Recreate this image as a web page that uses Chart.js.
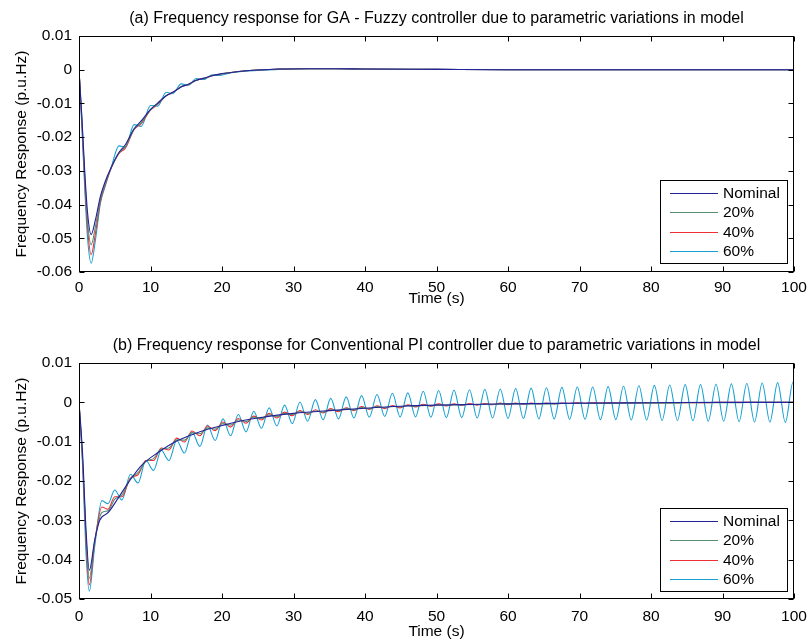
<!DOCTYPE html>
<html>
<head>
<meta charset="utf-8">
<title>Frequency response under parametric variations</title>
<script src="https://cdn.jsdelivr.net/npm/chart.js@4.4.1/dist/chart.umd.min.js"></script>
<style>
  html, body { margin: 0; padding: 0; background: #fff; }
  #page { position: relative; width: 809px; height: 643px; }
  #page canvas { position: absolute; left: 0; }
</style>
</head>
<body>
<div id="page">
  <canvas id="panelA" width="809" height="321" style="top:0"></canvas>
  <canvas id="panelB" width="809" height="322" style="top:321px"></canvas>
</div>
<script>
// ---- axes ----
const timeTicks = [0, 10, 20, 30, 40, 50, 60, 70, 80, 90, 100];
const yTicksA = [0.01, 0, -0.01, -0.02, -0.03, -0.04, -0.05, -0.06];
const yTicksB = [0.01, 0, -0.01, -0.02, -0.03, -0.04, -0.05];
const seriesNames = ['Nominal', '20%', '40%', '60%'];

// ---- (a) GA - Fuzzy controller ----
const tA = [0, 0.4, 0.8, 1.2, 1.7, 2.3, 3.0, 3.6, 4.5, 5.6,
  6.5, 7.7, 8.7, 10.0, 11.0, 12.2, 13.1, 14.3, 15.3, 16.4,
  17.5, 18.6, 19.6, 21, 23, 25, 28, 32, 36, 40,
  50, 60, 70, 80, 100];
const nominalA = [0, -0.014, -0.030, -0.0425, -0.0489, -0.0445, -0.0375, -0.0335, -0.0290, -0.0245,
  -0.0222, -0.0175, -0.0152, -0.0118, -0.0099, -0.0077, -0.0067, -0.0051, -0.0043, -0.0031,
  -0.0025, -0.0018, -0.0013, -0.0009, -0.0004, -0.0001, 0.0002, 0.0003, 0.0003, 0.0002,
  0.0001, 0, 0, 0, 0];
const var20A = [0, -0.0148, -0.0315, -0.045, -0.0519, -0.0465, -0.0383, -0.0340, -0.0291, -0.0247,
  -0.0228, -0.0177, -0.0157, -0.0119, -0.0101, -0.0077, -0.0068, -0.0050, -0.0044, -0.0031,
  -0.0026, -0.0018, -0.0014, -0.0009, -0.0004, -0.0001, 0.0002, 0.0003, 0.0003, 0.0002,
  0.0001, 0, 0, 0, 0];
const var40A = [0, -0.0155, -0.033, -0.047, -0.0549, -0.0485, -0.0390, -0.0345, -0.0292, -0.0248,
  -0.0232, -0.0178, -0.0160, -0.0120, -0.0103, -0.0077, -0.0068, -0.0050, -0.0044, -0.0031,
  -0.0026, -0.0018, -0.0014, -0.0009, -0.0004, -0.0001, 0.0002, 0.0003, 0.0003, 0.0002,
  0.0001, 0, 0, 0, 0];
const var60A = [0, -0.017, -0.035, -0.050, -0.0574, -0.0505, -0.0395, -0.0350, -0.0290, -0.0226,
  -0.0230, -0.0163, -0.0168, -0.0106, -0.0108, -0.0067, -0.0071, -0.0042, -0.0046, -0.0026,
  -0.0029, -0.0015, -0.0017, -0.0010, -0.0005, -0.0002, 0.0001, 0.0003, 0.0003, 0.0002,
  0.0001, 0, 0, 0, 0];

// ---- (b) Conventional PI controller ----
const tNomB = [0, 0.5, 1.0, 1.44, 2.2, 2.9, 4.1, 5.5, 6.9, 8.75,
  11.1, 13.4, 15.7, 18.1, 20, 22, 25, 28, 30, 35,
  40, 45, 50, 60, 70, 80, 90, 100];
const nominalB = [0, -0.013, -0.033, -0.0427, -0.035, -0.0300, -0.0280, -0.0243, -0.0204, -0.0160,
  -0.0127, -0.0101, -0.0083, -0.0068, -0.0059, -0.0050, -0.0040, -0.0032, -0.0028, -0.0021,
  -0.0015, -0.0010, -0.0007, -0.0004, -0.0002, -0.0001, 0, 0];

// swing peaks / troughs of the detuned models
const tB = [0, 0.5, 1.0, 1.44, 2.2, 3.2, 4.05, 5.0, 6.0, 7.2,
  8.25, 9.35, 10.43, 11.5, 12.58, 13.66, 14.74, 15.82, 16.9, 17.97,
  19.05, 20.13, 21.2, 22.28, 23.36, 24.44, 25.52, 26.59, 27.67, 28.75,
  29.83, 30.9, 31.98, 33.06, 34.14, 35.21, 36.29, 37.37, 38.45, 39.52,
  40.6, 41.68, 42.76, 43.83, 44.91, 45.99, 47.07, 48.14, 49.22, 50.3,
  51.38, 52.45, 53.53, 54.61, 55.69, 56.76, 57.84, 58.92, 60.0, 61.07,
  62.15, 63.23, 64.31, 65.38, 66.46, 67.54, 68.62, 69.69, 70.77, 71.85,
  72.93, 74.0, 75.08, 76.16, 77.24, 78.31, 79.39, 80.47, 81.55, 82.62,
  83.7, 84.78, 85.86, 86.93, 88.01, 89.09, 90.17, 91.24, 92.32, 93.4,
  94.48, 95.55, 96.63, 97.71, 98.79, 99.86, 100];
const var20B = [0, -0.0145, -0.0345, -0.0447, -0.0352, -0.0280, -0.0276, -0.0246, -0.0236, -0.0194,
  -0.0179, -0.0150, -0.0143, -0.0119, -0.0116, -0.0095, -0.0096, -0.0077, -0.0080, -0.0065,
  -0.0068, -0.0054, -0.0058, -0.0045, -0.0049, -0.0038, -0.0041, -0.0032, -0.0036, -0.0028,
  -0.0031, -0.0024, -0.0028, -0.0022, -0.0025, -0.0019, -0.0021, -0.0016, -0.0019, -0.0013,
  -0.0016, -0.0011, -0.0014, -0.0010, -0.0012, -0.0008, -0.0010, -0.0007, -0.0009, -0.0006,
  -0.0008, -0.0006, -0.0007, -0.0005, -0.0006, -0.0005, -0.0005, -0.0004, -0.0004, -0.0004,
  -0.0004, -0.0004, -0.0004, -0.0004, -0.0004, -0.0003, -0.0003, -0.0003, -0.0003, -0.0003,
  -0.0003, -0.0003, -0.0003, -0.0002, -0.0002, -0.0002, -0.0002, -0.0002, -0.0002, -0.0002,
  -0.0002, -0.0001, -0.0001, -0.0001, -0.0001, -0.0001, -0.0001, -0.0001, -0.0001, 0,
  0, 0, 0, 0, 0, 0, 0];
const var40B = [0, -0.0148, -0.036, -0.0464, -0.0355, -0.0266, -0.0272, -0.0240, -0.0240, -0.0192,
  -0.0184, -0.0148, -0.0148, -0.0116, -0.0121, -0.0091, -0.0101, -0.0073, -0.0085, -0.0060,
  -0.0072, -0.0050, -0.0063, -0.0041, -0.0053, -0.0035, -0.0045, -0.0028, -0.0040, -0.0025,
  -0.0034, -0.0021, -0.0031, -0.0019, -0.0027, -0.0016, -0.0024, -0.0014, -0.0021, -0.0011,
  -0.0018, -0.0009, -0.0016, -0.0008, -0.0014, -0.0006, -0.0012, -0.0005, -0.0010, -0.0004,
  -0.0009, -0.0004, -0.0008, -0.0003, -0.0007, -0.0003, -0.0006, -0.0002, -0.0006, -0.0002,
  -0.0005, -0.0002, -0.0004, -0.0002, -0.0004, -0.0002, -0.0003, -0.0001, -0.0003, -0.0001,
  -0.0002, -0.0001, -0.0002, -0.0001, -0.0001, -0.0001, -0.0001, -0.0001, -0.0001, -0.0001,
  -0.0001, -0.0001, -0.0001, -0.0001, -0.0001, 0, 0, 0, 0, 0,
  0, 0, 0, 0, 0, 0, 0];
const var60B = [0, -0.016, -0.039, -0.048, -0.0366, -0.0250, -0.0258, -0.0223, -0.0248, -0.0183,
  -0.0205, -0.0148, -0.0173, -0.0122, -0.0148, -0.0097, -0.0129, -0.0076, -0.0112, -0.0058,
  -0.0097, -0.0042, -0.0085, -0.0031, -0.0075, -0.0023, -0.0066, -0.0014, -0.0060, -0.0007,
  -0.0054, 0.0001, -0.0048, 0.0007, -0.0044, 0.0010, -0.0042, 0.0014, -0.0040, 0.0017,
  -0.0038, 0.0020, -0.0036, 0.0023, -0.0037, 0.0024, -0.0037, 0.0028, -0.0038, 0.0030,
  -0.0039, 0.0031, -0.0039, 0.0032, -0.0040, 0.0033, -0.0040, 0.0034, -0.0041, 0.0035,
  -0.0041, 0.0036, -0.0042, 0.0037, -0.0042, 0.0038, -0.0043, 0.0039, -0.0043, 0.0039,
  -0.0044, 0.0040, -0.0044, 0.0041, -0.0045, 0.0042, -0.0045, 0.0043, -0.0046, 0.0044,
  -0.0046, 0.0045, -0.0047, 0.0045, -0.0048, 0.0046, -0.0048, 0.0047, -0.0049, 0.0048,
  -0.0050, 0.0049, -0.0050, 0.0050, -0.0051, 0.0051, 0.0050];

const COLORS = ['#22229a', '#568f73', '#ee2f33', '#17a1d2'];
const FONT = '"Liberation Sans", Arial, Helvetica, sans-serif';

function points(ts, vs) {
  return vs.map((v, i) => ({ x: ts[i], y: v }));
}

function series(ts, vs, i) {
  return {
    label: seriesNames[i],
    data: points(ts, vs),
    borderColor: COLORS[i],
    borderWidth: 1.1,
    pointRadius: 0,
    fill: false,
    cubicInterpolationMode: 'monotone',
  };
}

// MATLAB-like axes box: frame, inward ticks, title, axis labels and boxed legend
const axesBox = {
  id: 'axesBox',
  afterDraw(chart, args, o) {
    const { ctx, chartArea: a, scales: { x, y } } = chart;
    const L = Math.round(a.left) + 0.5, R = Math.round(a.right) - 0.5;
    const T = Math.round(a.top) + 0.5, B = Math.round(a.bottom) - 0.5;
    ctx.save();
    ctx.strokeStyle = '#000';
    ctx.lineWidth = 1;
    ctx.beginPath();
    x.ticks.forEach(t => {
      const px = Math.round(x.getPixelForValue(t.value)) + 0.5;
      ctx.moveTo(px, B); ctx.lineTo(px, B - 5);
      ctx.moveTo(px, T); ctx.lineTo(px, T + 5);
    });
    y.ticks.forEach(t => {
      const py = Math.round(y.getPixelForValue(t.value)) + 0.5;
      ctx.moveTo(L, py); ctx.lineTo(L + 5, py);
      ctx.moveTo(R, py); ctx.lineTo(R - 5, py);
    });
    ctx.stroke();
    ctx.strokeRect(L, T, R - L, B - T);

    ctx.fillStyle = '#000';
    ctx.textAlign = 'center';
    ctx.textBaseline = 'middle';
    const cx = (a.left + a.right) / 2;
    ctx.font = '16px ' + FONT;
    ctx.fillText(o.title, cx, a.top - 17.5);
    ctx.font = '15.5px ' + FONT;
    ctx.fillText(o.xLabel, cx, a.bottom + o.xLabelGap);
    ctx.save();
    ctx.translate(22, (a.top + a.bottom) / 2);
    ctx.rotate(-Math.PI / 2);
    ctx.fillText(o.yLabel, 0, 0);
    ctx.restore();

    // legend in the lower right corner
    const w = 127, h = 83;
    const bx = Math.round(a.right) - 7 - w, by = Math.round(a.bottom) - o.legendGap - h;
    ctx.fillStyle = '#fff';
    ctx.fillRect(bx, by, w, h);
    ctx.strokeRect(bx + 0.5, by + 0.5, w, h);
    ctx.textAlign = 'left';
    chart.data.datasets.forEach((ds, i) => {
      const ry = Math.round(by + 12.7 + i * 19.4) + 0.5;
      ctx.strokeStyle = ds.borderColor;
      ctx.lineWidth = 1.1;
      ctx.beginPath();
      ctx.moveTo(bx + 10, ry); ctx.lineTo(bx + 58, ry);
      ctx.stroke();
      ctx.fillStyle = '#000';
      ctx.fillText(ds.label, bx + 63, ry + 0.5);
    });
    ctx.restore();
  }
};

function panel(id, cfg) {
  return new Chart(document.getElementById(id), {
    type: 'line',
    data: { datasets: cfg.datasets },
    plugins: [axesBox],
    options: {
      responsive: false,
      animation: false,
      events: [],
      layout: { padding: { top: cfg.top, right: 15, left: 0, bottom: 0 } },
      plugins: {
        legend: { display: false },
        tooltip: { enabled: false },
        axesBox: {
          title: cfg.title,
          xLabel: 'Time (s)',
          yLabel: 'Frequency Response (p.u.Hz)',
          xLabelGap: cfg.xLabelGap,
          legendGap: cfg.legendGap,
        },
      },
      scales: {
        x: {
          type: 'linear',
          min: 0,
          max: 100,
          afterBuildTicks: s => { s.ticks = timeTicks.map(v => ({ value: v })); },
          afterFit: s => {
            s.height = cfg.bottom;
            s.paddingLeft = 0;
            s.paddingRight = 0;
          },
          grid: { display: false, drawTicks: false },
          border: { display: false },
          ticks: { color: '#000', font: { family: FONT, size: 15.5 }, padding: cfg.tickPad, maxRotation: 0, autoSkip: false },
        },
        y: {
          min: cfg.yTicks[cfg.yTicks.length - 1],
          max: cfg.yTicks[0],
          afterBuildTicks: s => { s.ticks = cfg.yTicks.map(v => ({ value: v })); },
          afterFit: s => {
            s.width = 79;
            s.paddingTop = 0;
            s.paddingBottom = 0;
          },
          grid: { display: false, drawTicks: false },
          border: { display: false },
          ticks: {
            color: '#000',
            font: { family: FONT, size: 15.5 },
            padding: 7,
            autoSkip: false,
            callback: v => (v === 0 ? '0' : String(v)),
          },
        },
      },
    },
  });
}

panel('panelA', {
  title: '(a) Frequency response for GA - Fuzzy controller due to parametric variations in model',
  yTicks: yTicksA,
  top: 36, bottom: 49, tickPad: 6, xLabelGap: 27, legendGap: 9,
  datasets: [
    series(tA, nominalA, 0),
    series(tA, var20A, 1),
    series(tA, var40A, 2),
    series(tA, var60A, 3),
  ],
});

panel('panelB', {
  title: '(b) Frequency response for Conventional PI controller due to parametric variations in model',
  yTicks: yTicksB,
  top: 42, bottom: 44, tickPad: 8, xLabelGap: 32.5, legendGap: 8,
  datasets: [
    series(tNomB, nominalB, 0),
    series(tB, var20B, 1),
    series(tB, var40B, 2),
    series(tB, var60B, 3),
  ],
});
</script>
</body>
</html>
